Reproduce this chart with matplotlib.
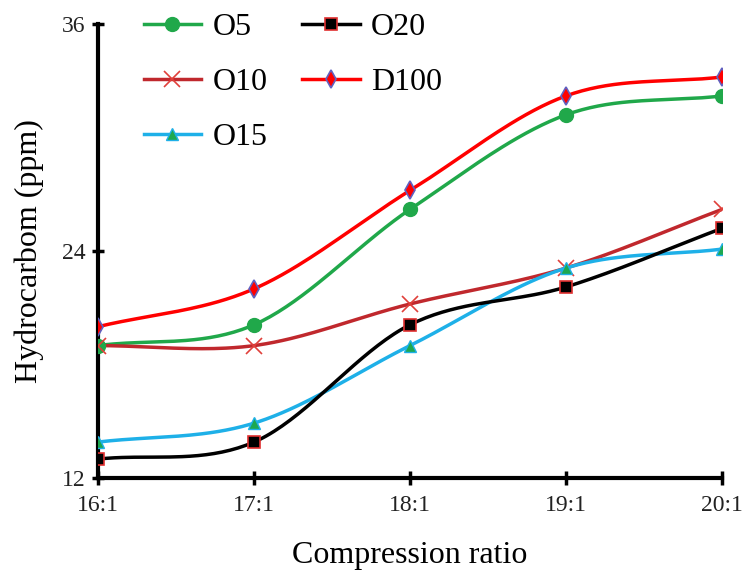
import numpy as np
import matplotlib.pyplot as plt

# -------------------------
# data
ratios = ['16:1', '17:1', '18:1', '19:1', '20:1']
o5 = [19.0, 20.1, 26.2, 31.2, 32.2]
o10 = [19.0, 19.0, 21.2, 23.1, 26.2]
o15 = [13.9, 14.9, 19.0, 23.1, 24.1]
o20 = [13.0, 13.9, 20.1, 22.1, 25.2]
d100 = [20.0, 22.0, 27.2, 32.2, 33.2]


def smooth(xs, ys, n=40):
    # catmull-rom spline through the points (like excel "smoothed line")
    xs = np.asarray(xs, float)
    ys = np.asarray(ys, float)
    px = np.concatenate([[2 * xs[0] - xs[1]], xs, [2 * xs[-1] - xs[-2]]])
    py = np.concatenate([[2 * ys[0] - ys[1]], ys, [2 * ys[-1] - ys[-2]]])
    out_x, out_y = [], []
    t = np.linspace(0, 1, n)
    for i in range(1, len(px) - 2):
        for p, out in ((px, out_x), (py, out_y)):
            p0, p1, p2, p3 = p[i - 1], p[i], p[i + 1], p[i + 2]
            seg = 0.5 * ((2 * p1) + (-p0 + p2) * t
                         + (2 * p0 - 5 * p1 + 4 * p2 - p3) * t ** 2
                         + (-p0 + 3 * p1 - 3 * p2 + p3) * t ** 3)
            out.extend(seg)
    return np.array(out_x), np.array(out_y)


plt.rcParams['font.family'] = ['Liberation Serif', 'DejaVu Serif']

fig = plt.figure(figsize=(7.44, 5.72), dpi=100)
ax = fig.add_axes([0.1317, 0.1643, 0.8387, 0.7937])

x = np.arange(len(ratios))

series = [
    ('O5', o5, '#20A84A', dict(marker='o', mfc='#20A84A', mec='#20A84A', ms=10)),
    ('O10', o10, '#C0282D', dict(marker='x', mfc='none', mec='#E0403A', ms=11, mew=1.2)),
    ('O15', o15, '#1EB0E8', dict(marker='^', mfc='#1DA850', mec='#1EB0E8', ms=9)),
    ('O20', o20, '#000000', dict(marker='s', mfc='#000000', mec='#E03030', ms=8, mew=1.2)),
    ('D100', d100, '#FF0000', dict(marker='d', mfc='#FF0000', mec='#6060C0', ms=9, mew=1.2)),
]

handles = []
for name, vals, col, mk in series:
    sx, sy = smooth(x, vals)
    ax.plot(sx, sy, color=col, lw=2.5, zorder=2)
    ax.plot(x, vals, ls='none', zorder=3, **mk)
    h, = ax.plot([], [], color=col, lw=2.5, **mk)
    handles.append((h, name))

leg = fig.legend([h for h, n in handles], [n for h, n in handles],
                 ncol=2, loc='upper left', bbox_to_anchor=(0.193, 0.978),
                 frameon=False, fontsize=23, handlelength=1.8,
                 labelspacing=0.8, columnspacing=1.1, handletextpad=0.35,
                 borderpad=0, borderaxespad=0)

ax.set_xlim(0, 4)
ax.set_ylim(12, 36)
ax.set_xticks(x)
ax.set_xticklabels(ratios)
ax.set_yticks([12, 24, 36])
ax.tick_params(labelsize=17, width=2.5, length=8, direction='inout', pad=5)
ax.tick_params(axis='x', length=10, pad=7)
for s in ['top', 'right']:
    ax.spines[s].set_visible(False)
for s in ['left', 'bottom']:
    ax.spines[s].set_linewidth(3)
ax.set_xlabel('Compression ratio', fontsize=23, labelpad=18)
ax.set_ylabel('Hydrocarbom (ppm)', fontsize=23, labelpad=13)
for lab in ax.get_xticklabels() + ax.get_yticklabels():
    lab.set_color('#222222')

fig.savefig('out.png', dpi=100)
